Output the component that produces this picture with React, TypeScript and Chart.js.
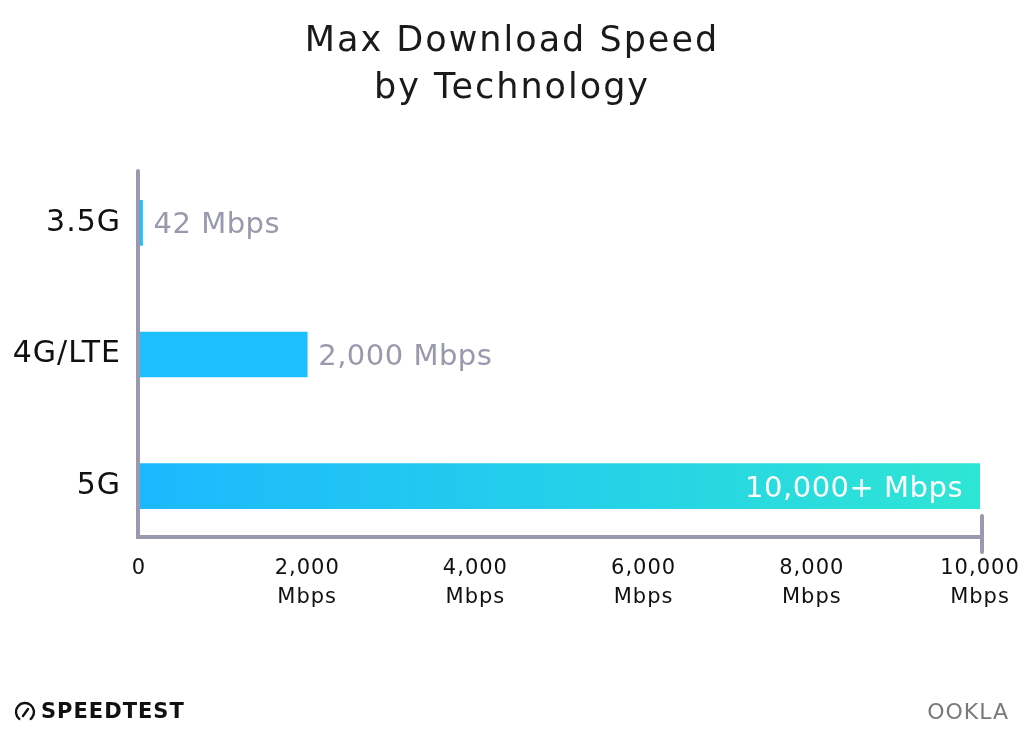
import React, { useEffect, useRef } from "react";
import { Chart, registerables } from "chart.js";

Chart.register(...registerables);

const categories = ["3.5G", "4G/LTE", "5G"];
const speeds = [42, 2000, 10000];
const valueLabels = ["42 Mbps", "2,000 Mbps", "10,000+ Mbps"];
const tickLabels = ["0", "2,000", "4,000", "6,000", "8,000", "10,000"];
const tickUnit = "Mbps";
const titleLines = ["Max Download Speed", "by Technology"];
const axisMax = 10000;
const tickStep = 2000;

const FONT = "'DejaVu Sans', sans-serif";
const AXIS_COLOR = "#9a9aae";
const LABEL_GRAY = "#9899ad";

const spacingPlugin = {
  id: "spacing",
  beforeDraw(chart: any) {
    (chart.ctx as any).letterSpacing = "2px"; // title
  },
  afterDatasetsDraw(chart: any) {
    const { ctx, chartArea, scales } = chart;
    (ctx as any).letterSpacing = "0px";
    const xs = scales.x;
    const x0 = xs.getPixelForValue(0) - 1;
    const x1 = xs.getPixelForValue(axisMax) + 2;
    const yAxisLine = chartArea.bottom - 15;
    ctx.save();
    ctx.strokeStyle = AXIS_COLOR;
    ctx.lineWidth = 4;
    ctx.lineCap = "round";
    ctx.beginPath();
    ctx.moveTo(x0, chartArea.top + 14);
    ctx.lineTo(x0, yAxisLine);
    ctx.lineTo(x1, yAxisLine);
    ctx.stroke();
    ctx.beginPath();
    ctx.moveTo(x1, yAxisLine - 21);
    ctx.lineTo(x1, yAxisLine + 15);
    ctx.stroke();

    const meta = chart.getDatasetMeta(0);
    ctx.font = `400 29px ${FONT}`;
    (ctx as any).letterSpacing = "0.5px";
    ctx.textBaseline = "middle";
    meta.data.forEach((bar: any, i: number) => {
      if (i === speeds.length - 1) {
        ctx.fillStyle = "#ffffff";
        ctx.textAlign = "right";
        ctx.fillText(valueLabels[i], bar.x - 17, bar.y + 3);
      } else {
        ctx.fillStyle = LABEL_GRAY;
        ctx.textAlign = "left";
        ctx.fillText(valueLabels[i], bar.x + 11, bar.y + 3);
      }
    });

    ctx.strokeStyle = "#111";
    ctx.lineWidth = 2.4;
    ctx.lineCap = "round";
    ctx.beginPath();
    ctx.arc(25, 712, 9, Math.PI * 0.72, Math.PI * 2.28);
    ctx.stroke();
    ctx.beginPath();
    ctx.moveTo(23, 716);
    ctx.lineTo(28, 709);
    ctx.stroke();
    ctx.fillStyle = "#111";
    ctx.textAlign = "left";
    ctx.textBaseline = "middle";
    ctx.font = `700 21px ${FONT}`;
    (ctx as any).letterSpacing = "1px";
    ctx.fillText("SPEEDTEST", 41, 713);
    ctx.fillStyle = "#7a7a7a";
    ctx.font = `400 22px ${FONT}`;
    ctx.textAlign = "right";
    ctx.fillText("OOKLA", 1009, 713);
    ctx.restore();
    // tick labels (drawn in layers with z > 0 after this hook)
    (ctx as any).letterSpacing = "1px";
  },
  afterDraw(chart: any) {
    (chart.ctx as any).letterSpacing = "0px";
  },
};

export default function App() {
  const canvasRef = useRef<HTMLCanvasElement>(null);

  useEffect(() => {
    const canvas = canvasRef.current;
    if (!canvas) return;
    const chart = new Chart(canvas, {
      type: "bar",
      data: {
        labels: categories,
        datasets: [
          {
            data: speeds,
            barThickness: 45,
            backgroundColor: (c: any) => {
              const area = c.chart.chartArea;
              if (c.dataIndex === speeds.length - 1 && area) {
                const xs = c.chart.scales.x;
                const g = c.chart.ctx.createLinearGradient(
                  xs.getPixelForValue(0), 0, xs.getPixelForValue(axisMax), 0
                );
                g.addColorStop(0, "#1cb8ff");
                g.addColorStop(1, "#2ee6d4");
                return g;
              }
              return "#1ebfff";
            },
            borderWidth: 0,
          },
        ],
      },
      options: {
        indexAxis: "y",
        responsive: true,
        maintainAspectRatio: false,
        animation: false,
        layout: { padding: { left: 0, right: 0, top: 0, bottom: 112 } },
        plugins: {
          legend: { display: false },
          tooltip: { enabled: false },
          title: {
            display: true,
            text: titleLines,
            color: "#1a1a1a",
            font: { family: FONT, size: 35, weight: "400", lineHeight: 1.343 },
            padding: { top: 18, bottom: 45 },
          },
        },
        scales: {
          x: {
            min: 0,
            max: axisMax,
            grid: { display: false, drawTicks: false },
            border: { display: false },
            afterFit: (s: any) => {
              s.height = 70;
            },
            ticks: {
              z: 1,
              stepSize: tickStep,
              padding: 2,
              maxRotation: 0,
              minRotation: 0,
              autoSkip: false,
              color: "#111",
              font: { family: FONT, size: 21, lineHeight: 1.38 },
              callback: (_v: any, i: number) =>
                i === 0 ? tickLabels[0] : [tickLabels[i], tickUnit],
            },
          },
          y: {
            grid: { display: false, drawTicks: false },
            border: { display: false },
            afterFit: (s: any) => {
              s.width = 139;
            },
            ticks: {
              z: 1,
              padding: 18,
              color: "#111",
              font: { family: FONT, size: 30 },
            },
          },
          y2: {
            type: "category",
            labels: categories,
            position: "right",
            grid: { display: false, drawTicks: false },
            border: { display: false },
            ticks: { display: false },
            afterFit: (s: any) => {
              s.width = 44;
            },
          },
        },
      },
      plugins: [spacingPlugin],
    } as any);
    return () => chart.destroy();
  }, []);

  return (
    <div style={{ position: "absolute", left: 0, top: 0, width: 1024, height: 734, background: "#fff" }}>
      <canvas ref={canvasRef} />
    </div>
  );
}
